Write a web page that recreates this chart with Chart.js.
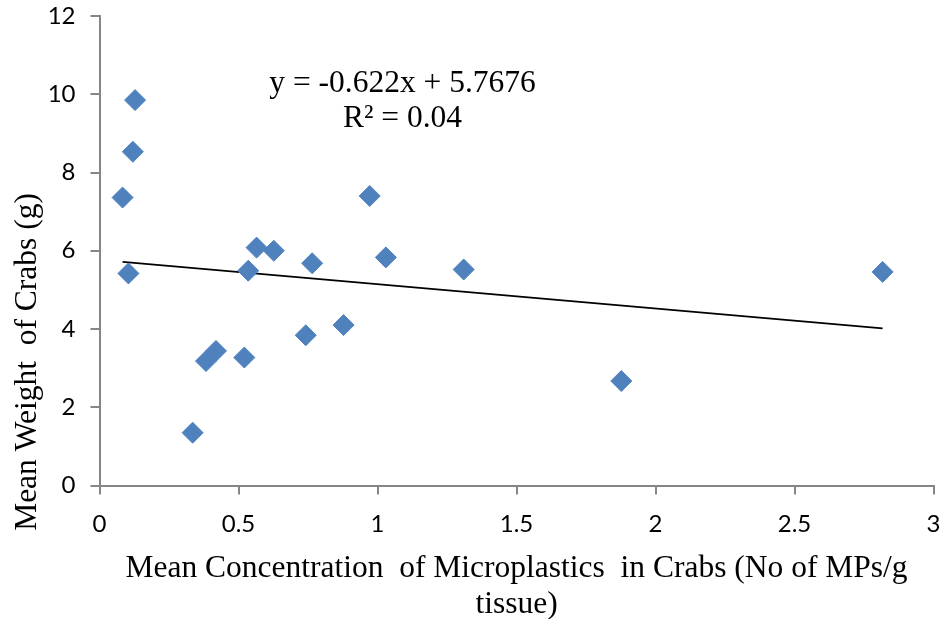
<!DOCTYPE html>
<html>
<head>
<meta charset="utf-8">
<script src="https://cdn.jsdelivr.net/npm/chart.js@4"></script>
<style>
    html, body { margin: 0; padding: 0; background: #ffffff; }
    #wrap { width: 945px; height: 619px; }
</style>
</head>
<body>
<div id="wrap"><canvas id="crabChart" width="945" height="619"></canvas></div>
<script>
// Data
const concentration = [0.083, 0.104, 0.120, 0.128, 0.335, 0.383, 0.419, 0.521, 0.535, 0.565,
    0.627, 0.742, 0.765, 0.878, 0.972, 1.030, 1.310, 1.877, 2.817];
const weight = [7.36, 5.42, 8.53, 9.85, 1.35, 3.18, 3.44, 3.27, 5.49, 6.08,
    6.00, 3.84, 5.68, 4.10, 7.40, 5.83, 5.52, 2.67, 5.46];

// Linear trendline as printed on the chart
const trendSlope = -0.622;
const trendIntercept = 5.7676;
const equationLines = ['y = -0.622x + 5.7676', 'R\u00B2 = 0.04'];

const xTicks = [0, 0.5, 1, 1.5, 2, 2.5, 3];
const yTicks = [0, 2, 4, 6, 8, 10, 12];

const xTitle = ['Mean Concentration  of Microplastics  in Crabs (No of MPs/g', 'tissue)'];
const yTitle = 'Mean Weight  of Crabs (g)';

document.addEventListener('DOMContentLoaded', () => {
    const axisGrey = '#868686';
    const serif = "'Liberation Serif', 'Times New Roman', serif";
    const titleSize = 31.5;

    const points = concentration.map((x, i) => ({ x: x, y: weight[i] }));

    const xMin = Math.min(...concentration);
    const xMax = Math.max(...concentration);
    const trendPoints = [xMin, xMax].map(x => ({ x: x, y: trendSlope * x + trendIntercept }));

    // Equation text + rotated y title drawn on top
    const textPlugin = {
        id: 'textPlugin',
        afterDraw(chart) {
            const ctx = chart.ctx;
            const xs = chart.scales.x;
            const ys = chart.scales.y;
            ctx.save();
            ctx.fillStyle = '#000000';
            ctx.font = titleSize + 'px ' + serif;
            ctx.textAlign = 'center';
            ctx.textBaseline = 'alphabetic';

            const ex = xs.getPixelForValue(1.09);
            const ey = ys.getPixelForValue(10.05);
            ctx.fillText(equationLines[0], ex, ey);
            ctx.fillText(equationLines[1], ex, ey + 35);

            ctx.translate(36, 362);
            ctx.rotate(-Math.PI / 2);
            ctx.fillText(yTitle, 0, 0);
            ctx.restore();
        }
    };

    new Chart(document.getElementById('crabChart'), {
        type: 'scatter',
        data: {
            datasets: [{
                label: 'Crabs',
                data: points,
                pointStyle: 'rectRot',
                pointRadius: 10.5,
                pointHoverRadius: 10.5,
                backgroundColor: '#4F81BD',
                borderColor: '#4F81BD',
                borderWidth: 1,
                order: 1
            }, {
                type: 'line',
                label: 'Linear',
                data: trendPoints,
                borderColor: '#000000',
                borderWidth: 1.6,
                pointRadius: 0,
                fill: false,
                order: 2
            }]
        },
        options: {
            responsive: false,
            animation: false,
            layout: { padding: { top: 16, right: 11, left: 0, bottom: 0 } },
            plugins: {
                legend: { display: false },
                tooltip: { enabled: false }
            },
            scales: {
                x: {
                    type: 'linear',
                    min: 0,
                    max: 3,
                    afterBuildTicks: axis => { axis.ticks = xTicks.map(v => ({ value: v })); },
                    afterFit: axis => {
                        axis.height = 133.5;
                        axis.paddingLeft = 0;
                        axis.paddingRight = 0;
                    },
                    ticks: {
                        color: '#000000',
                        padding: 15.5,
                        font: { family: 'Lato', size: 24 },
                        callback: v => String(v)
                    },
                    grid: { drawOnChartArea: false, drawTicks: true, tickLength: 9, color: axisGrey, lineWidth: 2 },
                    border: { color: axisGrey, width: 2 },
                    title: {
                        display: true,
                        text: xTitle,
                        color: '#000000',
                        font: { family: serif, size: titleSize, lineHeight: 1.12 },
                        padding: { top: 0, bottom: -3 }
                    }
                },
                y: {
                    min: 0,
                    max: 12,
                    afterBuildTicks: axis => { axis.ticks = yTicks.map(v => ({ value: v })); },
                    afterFit: axis => {
                        axis.width = 99.5;
                        axis.paddingTop = 0;
                        axis.paddingBottom = 0;
                    },
                    ticks: {
                        color: '#000000',
                        padding: 15,
                        font: { family: 'Lato', size: 24 }
                    },
                    grid: { drawOnChartArea: false, drawTicks: true, tickLength: 9, color: axisGrey, lineWidth: 2 },
                    border: { color: axisGrey, width: 2 }
                }
            }
        },
        plugins: [textPlugin]
    });
});
</script>
</body>
</html>
